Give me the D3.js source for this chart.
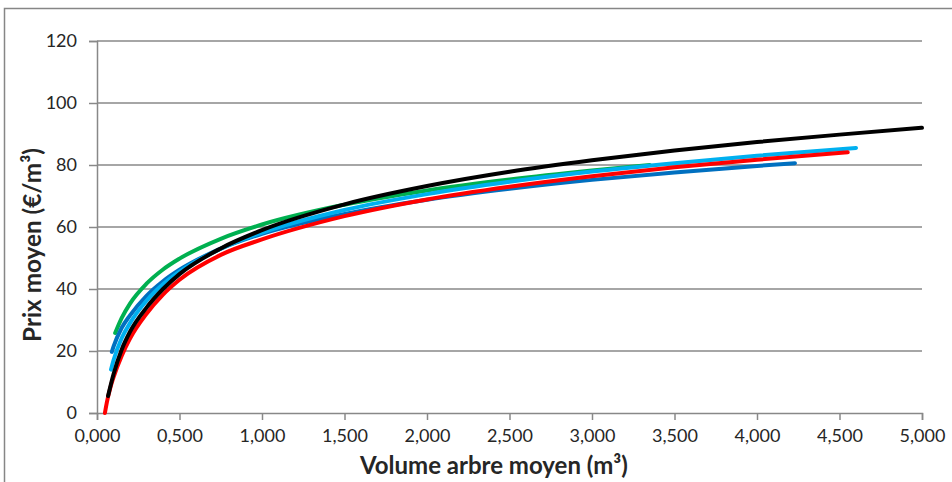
<!DOCTYPE html>
<html>
<head>
<meta charset="utf-8">
<script src="https://cdn.jsdelivr.net/npm/d3@7/dist/d3.min.js"></script>
<style>
  html, body { margin: 0; padding: 0; background: #fff; }
  svg { display: block; }
  text { font-family: Lato, "Open Sans", sans-serif; fill: #262626; }
</style>
</head>
<body>
<svg id="chart" width="952" height="482"></svg>
<script>
// ---- Data ----
const xTicks = [0, 0.5, 1, 1.5, 2, 2.5, 3, 3.5, 4, 4.5, 5];
const yTicks = [0, 20, 40, 60, 80, 100, 120];

const greenX = [0.11, 0.15, 0.2, 0.3, 0.4, 0.5, 0.75, 1, 1.5, 2, 2.5, 3, 3.35];
const greenY = [25.8, 30.7, 35.3, 41.7, 46.3, 49.8, 56.2, 60.8, 67.2, 71.8, 75.3, 78.2, 80.0];

const blueX = [0.09, 0.1, 0.15, 0.2, 0.3, 0.4, 0.5, 0.75, 1, 1.5, 2, 2.5, 3, 3.5, 4, 4.23];
const blueY = [19.7, 21.4, 27.5, 31.5, 37.8, 42.5, 46.2, 53.0, 57.8, 64.2, 68.8, 72.3, 75.2, 77.6, 79.7, 80.6];

const cyanX = [0.085, 0.1, 0.15, 0.2, 0.3, 0.4, 0.5, 0.75, 1, 1.5, 2, 2.5, 3, 3.5, 4, 4.6];
const cyanY = [14.0, 17.0, 24.2, 29.0, 36.2, 41.5, 45.6, 53.0, 58.2, 65.5, 70.6, 74.6, 77.9, 80.6, 83.0, 85.5];

const redX = [0.048, 0.06, 0.08, 0.1, 0.15, 0.2, 0.3, 0.4, 0.5, 0.75, 1, 1.5, 2, 2.5, 3, 3.5, 4, 4.55];
const redY = [0, 3.5, 8.0, 11.5, 18.5, 24.0, 32.0, 38.2, 43.0, 51.0, 56.0, 63.5, 68.9, 73.0, 76.4, 79.3, 81.7, 84.1];

const blackX = [0.067, 0.1, 0.15, 0.2, 0.3, 0.4, 0.5, 0.75, 1, 1.5, 2, 2.5, 3, 3.5, 4, 4.5, 5];
const blackY = [5.5, 12.5, 20.5, 26.2, 34.0, 40.0, 44.8, 53.1, 59.0, 67.3, 73.2, 77.8, 81.5, 84.7, 87.4, 89.8, 92.0];

const seriesList = [
  { name: "vert",  xs: greenX, ys: greenY, color: "#00B050" },
  { name: "bleu",  xs: blueX,  ys: blueY,  color: "#0070C0" },
  { name: "cyan",  xs: cyanX,  ys: cyanY,  color: "#00B0F0" },
  { name: "rouge", xs: redX,   ys: redY,   color: "#FF0000" },
  { name: "noir",  xs: blackX, ys: blackY, color: "#000000" }
];

const xTitle = "Volume arbre moyen (m³)";
const yTitle = "Prix moyen (€/m³)";

// ---- Layout ----
const svg = d3.select("#chart");
const plotL = 97, plotR = 922, plotT = 41, plotB = 413;

const fr = d3.formatLocale({ decimal: ",", thousands: " ", grouping: [3], currency: ["", " €"] });
const fmtX = fr.format(".3f");

const x = d3.scaleLinear().domain([0, 5]).range([plotL, plotR]);
const y = d3.scaleLinear().domain([0, 120]).range([plotB, plotT]);

// Outer frame
svg.append("rect")
  .attr("x", 4.5).attr("y", 8.5).attr("width", 1000).attr("height", 1000)
  .attr("fill", "none").attr("stroke", "#868686").attr("stroke-width", 1.5);

// Gridlines
svg.append("g")
  .selectAll("line")
  .data(yTicks.filter(d => d > 0))
  .join("line")
  .attr("x1", plotL).attr("x2", plotR)
  .attr("y1", d => y(d)).attr("y2", d => y(d))
  .attr("stroke", "#888888").attr("stroke-width", 1.5);

// Y axis
const yAxis = svg.append("g")
  .attr("transform", `translate(${plotL},0)`)
  .call(d3.axisLeft(y).tickValues(yTicks).tickSize(8).tickPadding(12).tickFormat(d3.format("d")));
yAxis.select(".domain").attr("stroke", "#888888").attr("stroke-width", 1.5);
yAxis.selectAll(".tick line").attr("stroke", "#888888").attr("stroke-width", 1.5);
yAxis.selectAll(".tick text")
  .attr("font-size", 18).attr("fill", "#404040")
  .style("font-family", "Lato, sans-serif");

// X axis
const xAxis = svg.append("g")
  .attr("transform", `translate(0,${plotB})`)
  .call(d3.axisBottom(x).tickValues(xTicks).tickSize(7).tickPadding(9).tickFormat(fmtX));
xAxis.select(".domain").attr("stroke", "#888888").attr("stroke-width", 1.5);
xAxis.selectAll(".tick line").attr("stroke", "#888888").attr("stroke-width", 1.5);
xAxis.selectAll(".tick text")
  .attr("font-size", 18).attr("fill", "#404040")
  .style("font-family", "Lato, sans-serif");

// Curves
const line = d3.line()
  .x(d => x(d[0]))
  .y(d => y(d[1]))
  .curve(d3.curveMonotoneX);

svg.append("g")
  .selectAll("path")
  .data(seriesList)
  .join("path")
  .attr("d", s => line(s.xs.map((v, i) => [v, s.ys[i]])))
  .attr("fill", "none")
  .attr("stroke", s => s.color)
  .attr("stroke-width", 4)
  .attr("stroke-linecap", "round")
  .attr("stroke-linejoin", "round");

// Axis titles (font size fitted to the reference text widths)
function fitText(sel, targetWidth, baseSize) {
  sel.attr("font-size", baseSize);
  const w = sel.node().getComputedTextLength();
  if (w > 0) sel.attr("font-size", baseSize * targetWidth / w);
}

const xt = svg.append("text")
  .attr("x", 494).attr("y", 474)
  .attr("text-anchor", "middle")
  .attr("font-weight", "bold")
  .style("font-family", "Lato, sans-serif")
  .attr("fill", "#1a1a1a")
  .text(xTitle);
fitText(xt, 268, 22);

const yt = svg.append("text")
  .attr("transform", "translate(41,245) rotate(-90)")
  .attr("text-anchor", "middle")
  .attr("font-weight", "bold")
  .style("font-family", "Lato, sans-serif")
  .attr("fill", "#1a1a1a")
  .text(yTitle);
fitText(yt, 194, 22);
</script>
</body>
</html>
